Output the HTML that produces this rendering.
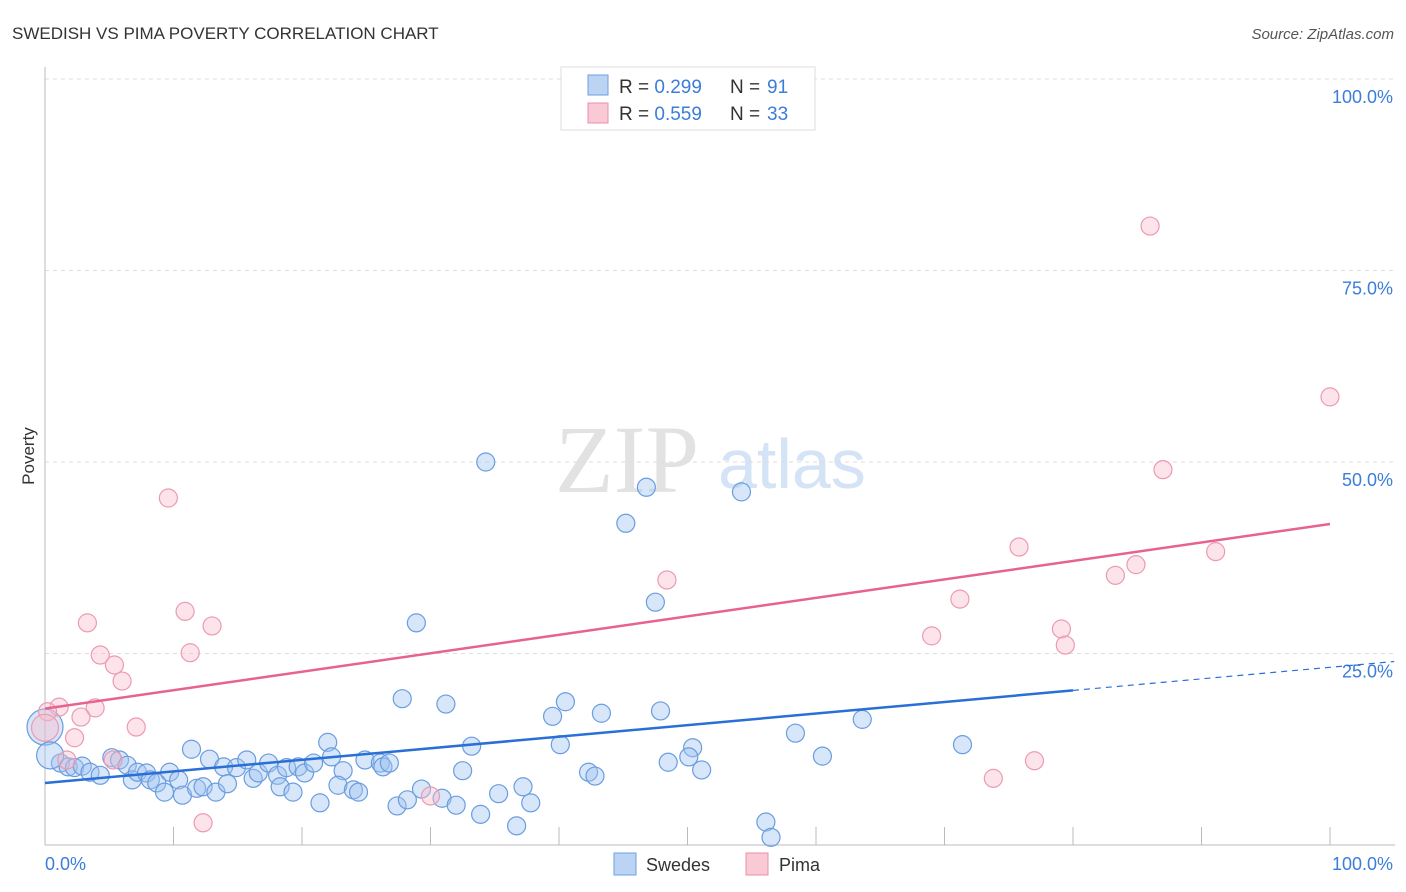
<!DOCTYPE html>
<html><head><meta charset="utf-8"><style>
body{margin:0;background:#fff;font-family:"Liberation Sans",sans-serif;}
#wrap{position:relative;width:1406px;height:892px;overflow:hidden;}
</style></head><body>
<div id="wrap">
<svg id="svg" width="1406" height="892" xmlns="http://www.w3.org/2000/svg">
<text x="12" y="39" font-size="17" fill="#333">SWEDISH VS PIMA POVERTY CORRELATION CHART</text>
<text x="1394" y="39" font-size="15" fill="#555" font-style="italic" text-anchor="end">Source: ZipAtlas.com</text>
<text x="555" y="492" font-size="96" fill="#e2e2e2" font-family="Liberation Serif, serif">ZIP</text>
<text x="718" y="488" font-size="70" fill="#d4e3f5">atlas</text>
<text x="34" y="456" font-size="17" fill="#333" text-anchor="middle" transform="rotate(-90 34 456)">Poverty</text>
<g id="grid"></g>
<g id="marks"></g>
<g id="lines"></g>
<g>
<rect x="561" y="67" width="254" height="63" fill="#fff" stroke="#ddd"/>
<rect x="588" y="75" width="20" height="20" fill="#bcd4f3" stroke="#6b9fe0"/>
<rect x="588" y="103" width="20" height="20" fill="#f9c9d6" stroke="#ea8fab"/>
<text x="619" y="93" font-size="19" fill="#333">R = <tspan fill="#3b7dd8">0.299</tspan></text>
<text x="730" y="93" font-size="19" fill="#333">N = </text>
<text x="767" y="93" font-size="19" fill="#3b7dd8">91</text>
<text x="619" y="120" font-size="19" fill="#333">R = <tspan fill="#3b7dd8">0.559</tspan></text>
<text x="730" y="120" font-size="19" fill="#333">N = </text>
<text x="767" y="120" font-size="19" fill="#3b7dd8">33</text>
</g>
<g>
<rect x="614" y="853" width="22" height="22" fill="#bcd4f3" stroke="#6b9fe0"/>
<text x="646" y="871" font-size="18" fill="#333">Swedes</text>
<rect x="746" y="853" width="22" height="22" fill="#f9c9d6" stroke="#ea8fab"/>
<text x="779" y="871" font-size="18" fill="#333">Pima</text>
</g>
<text x="45" y="870" font-size="18" fill="#3b7dd8">0.0%</text>
<text x="1393" y="870" font-size="18" fill="#3b7dd8" text-anchor="end">100.0%</text>
</svg>
</div>
<script>
const yTicks=[100,75,50,25];
const yTickLabels=["100.0%","75.0%","50.0%","25.0%"];
const xTicks=[0,10,20,30,40,50,60,70,80,90,100];
const blueX=[1.2,1.8,2.3,2.9,3.5,4.3,5.2,5.8,6.4,6.8,7.2,7.9,8.2,8.7,9.3,9.7,10.4,10.7,11.4,11.8,12.3,12.8,13.3,13.9,14.2,14.9,15.7,16.2,16.6,17.4,18.1,18.3,18.8,19.3,19.7,20.2,20.9,21.4,22.0,22.3,23.2,22.8,24.0,24.4,24.9,26.1,26.3,26.8,27.4,28.2,29.3,30.9,32.0,27.8,31.2,33.2,32.5,33.9,35.3,36.7,37.2,37.8,39.5,40.5,40.1,43.3,42.3,42.8,47.9,48.5,50.4,50.1,51.1,56.1,56.5,58.4,60.5,63.6,71.4,34.3,46.8,54.2,45.2,47.5,28.9,0.0,0.4];
const blueY=[10.7,10.2,10.1,10.3,9.5,9.1,11.4,11.1,10.4,8.5,9.5,9.4,8.5,8.1,6.9,9.5,8.5,6.5,12.5,7.4,7.6,11.2,6.9,10.2,8.0,10.1,11.1,8.7,9.4,10.7,9.1,7.6,10.1,6.9,10.2,9.4,10.7,5.5,13.4,11.5,9.7,7.8,7.2,6.9,11.1,10.7,10.2,10.7,5.1,5.9,7.3,6.1,5.2,19.1,18.4,12.9,9.7,4.0,6.7,2.5,7.6,5.5,16.8,18.7,13.1,17.2,9.5,9.0,17.5,10.8,12.7,11.5,9.8,3.0,1.0,14.6,11.6,16.4,13.1,50.0,46.7,46.1,42.0,31.7,29.0,15.4,11.7];
const blueSize=blueX.map((v,i)=>i===85?2.0:(i===86?1.5:1));
const pinkX=[9.6,10.9,13.0,11.3,3.3,4.3,5.4,6.0,3.9,2.8,1.1,0.2,2.3,7.1,5.3,1.7,12.3,30.0,48.4,86.0,100,87.0,75.8,91.1,84.9,83.3,71.2,69.0,79.1,79.4,73.8,77.0,0.0];
const pinkY=[45.3,30.5,28.6,25.1,29.0,24.8,23.5,21.4,17.9,16.7,18.0,17.4,14.0,15.4,11.1,11.1,2.9,6.4,34.6,80.8,58.5,49.0,38.9,38.3,36.6,35.2,32.1,27.3,28.2,26.1,8.7,11.0,15.3];
const blueTrend=[8.1,0.151];
const pinkTrend=[17.8,0.241];
const NS="http://www.w3.org/2000/svg";
const X=v=>45+v*12.85, Y=v=>845-v*7.66;
function mk(tag,attrs,parent){const e=document.createElementNS(NS,tag);for(const k in attrs)e.setAttribute(k,attrs[k]);parent.appendChild(e);return e;}
const grid=document.getElementById('grid'),marks=document.getElementById('marks'),lines=document.getElementById('lines');
yTicks.forEach((t,i)=>{
 const l=mk('line',{x1:45,x2:1395,y1:Y(t),y2:Y(t),stroke:'#ddd','stroke-dasharray':'4,4'},grid);
 
 
 const tx=mk('text',{x:1393,y:Y(t)+24,'font-size':18,fill:'#3b7dd8','text-anchor':'end'},grid);
 tx.textContent=yTickLabels[i];
 
 
});
let a=mk('line',{x1:45,x2:45,y1:67,y2:845,stroke:'#bbb'},grid);


a=mk('line',{x1:45,x2:1395,y1:845,y2:845,stroke:'#bbb'},grid);


xTicks.forEach(t=>{
 const l=mk('line',{x1:X(t),x2:X(t),y1:827,y2:845,stroke:'#bbb'},grid);
 
 
});
blueX.forEach((v,i)=>{
 const c=mk('circle',{cx:X(v),cy:Y(blueY[i]),r:9*blueSize[i],fill:'rgba(160,196,240,0.42)',stroke:'#6a9ddf','stroke-width':1.2},marks);
 
 
});
pinkX.forEach((v,i)=>{
 const c=mk('circle',{cx:X(v),cy:Y(pinkY[i]),r:9*(i===32?1.5:1),fill:'rgba(248,190,206,0.42)',stroke:'#ec9ab2','stroke-width':1.2},marks);
 
 
});
let t=mk('line',{x1:X(0),y1:Y(blueTrend[0]),x2:X(80),y2:Y(blueTrend[0]+blueTrend[1]*80),stroke:'#2a6fd6','stroke-width':2.5},lines);


t=mk('line',{x1:X(80),y1:Y(blueTrend[0]+blueTrend[1]*80),x2:X(105),y2:Y(blueTrend[0]+blueTrend[1]*105),stroke:'#2a6fd6','stroke-width':1.2,'stroke-dasharray':'6,5'},lines);


t=mk('line',{x1:X(0),y1:Y(pinkTrend[0]),x2:X(100),y2:Y(pinkTrend[0]+pinkTrend[1]*100),stroke:'#e8628f','stroke-width':2.5},lines);


</script>
</body></html>
